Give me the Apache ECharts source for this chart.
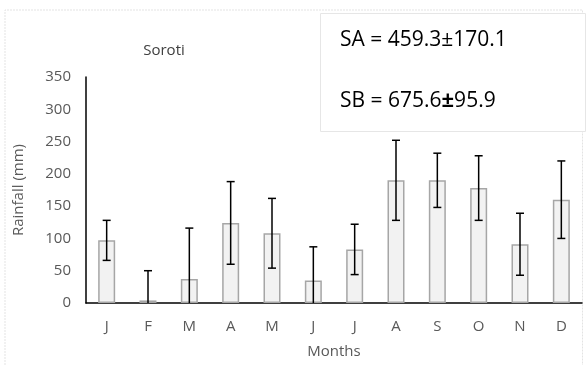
<!DOCTYPE html>
<html>
<head>
<meta charset="utf-8">
<script src="https://cdn.jsdelivr.net/npm/echarts@6/dist/echarts.min.js"></script>
<style>
  html, body { margin: 0; padding: 0; background: #fff; }
  #chart { width: 587px; height: 365px; }
</style>
</head>
<body>
<div id="chart"></div>
<script>
// Monthly rainfall at Soroti: mean and standard deviation (mm)
const months = ['J', 'F', 'M', 'A', 'M', 'J', 'J', 'A', 'S', 'O', 'N', 'D'];
const rainfall = [97, 4, 37, 124, 108, 35, 83, 190, 190, 178, 91, 160];
const rainfallSd = [31, 46, 79, 64, 54, 52, 39, 62, 42, 50, 48, 60];
const yTicks = [0, 50, 100, 150, 200, 250, 300, 350];
const seasonA = 'SA = 459.3±170.1';
const seasonB = ['SB = 675.6', '±', '95.9'];

const FONT = '"Open Sans", "Noto Sans", sans-serif';
const TEXT = '#595959';

const chart = echarts.init(document.getElementById('chart'), null, { renderer: 'canvas' });

const errData = rainfall.map((v, i) => [i, Math.max(0, v - rainfallSd[i]), v + rainfallSd[i]]);

chart.setOption({
  animation: false,
  backgroundColor: '#fff',
  textStyle: { fontFamily: FONT },
  title: {
    text: 'Soroti',
    left: 159, top: 38,
    textAlign: 'center',
    textStyle: { fontFamily: FONT, fontSize: 15, fontWeight: 'normal', color: '#404040' }
  },
  grid: { left: 86, right: 5, top: 77, bottom: 62, containLabel: false, outerBoundsMode: 'none' },
  xAxis: {
    type: 'category',
    data: months,
    name: 'Months',
    nameLocation: 'middle',
    nameGap: 41,
    nameTextStyle: { fontFamily: FONT, fontSize: 15, color: TEXT },
    axisLine: { lineStyle: { color: '#000', width: 1.5 } },
    axisTick: { show: false },
    axisLabel: { margin: 16, fontFamily: FONT, fontSize: 15, color: TEXT }
  },
  yAxis: {
    type: 'value',
    min: yTicks[0], max: yTicks[yTicks.length - 1], interval: 50,
    name: 'Rainfall (mm)',
    nameLocation: 'middle',
    nameGap: 60,
    nameTextStyle: { fontFamily: FONT, fontSize: 15, color: TEXT },
    axisLine: { show: true, lineStyle: { color: '#000', width: 1.5 } },
    axisTick: { show: false },
    splitLine: { show: false },
    axisLabel: { margin: 15, fontFamily: FONT, fontSize: 15, color: TEXT }
  },
  series: [
    {
      type: 'bar',
      data: rainfall,
      barWidth: 17,
      itemStyle: { color: '#f2f2f2', borderColor: '#a6a6a6', borderWidth: 1.5 },
      z: 2
    },
    {
      type: 'custom',
      data: errData,
      z: 3,
      renderItem: function (params, api) {
        const x = api.value(0);
        const lo = api.coord([x, api.value(1)]);
        const hi = api.coord([x, api.value(2)]);
        const cap = 4;
        const style = { stroke: '#000', lineWidth: 1.5 };
        const children = [
          { type: 'line', shape: { x1: hi[0], y1: hi[1], x2: lo[0], y2: lo[1] }, style: style },
          { type: 'line', shape: { x1: hi[0] - cap, y1: hi[1], x2: hi[0] + cap, y2: hi[1] }, style: style }
        ];
        if (api.value(1) > 0) {
          children.push({ type: 'line', shape: { x1: lo[0] - cap, y1: lo[1], x2: lo[0] + cap, y2: lo[1] }, style: style });
        }
        return { type: 'group', children: children };
      }
    }
  ],
  graphic: [
    // outer chart frame
    { type: 'polyline', silent: true, z: -1,
      shape: { points: [[5, 365], [5, 10], [582.5, 10], [582.5, 365]] },
      style: { stroke: '#e3e3e3', lineWidth: 1, fill: null, lineDash: [2, 1] } },
    // seasonal totals box
    { type: 'rect', silent: true, z: 10,
      shape: { x: 320.5, y: 13.5, width: 265, height: 118 },
      style: { fill: '#fff', stroke: '#e6e6e6', lineWidth: 1 } },
    { type: 'text', silent: true, z: 11,
      style: { x: 340, y: 40, text: seasonA, verticalAlign: 'middle',
               font: '21px ' + FONT, fill: '#000' } },
    { type: 'text', silent: true, z: 11,
      style: { x: 340, y: 101, verticalAlign: 'middle',
               text: seasonB[0] + '{b|' + seasonB[1] + '}' + seasonB[2],
               font: '21px ' + FONT, fill: '#000',
               rich: { b: { fontFamily: FONT, fontSize: 22, fontWeight: 'bold', fill: '#000' } } } }
  ]
});
</script>
</body>
</html>
